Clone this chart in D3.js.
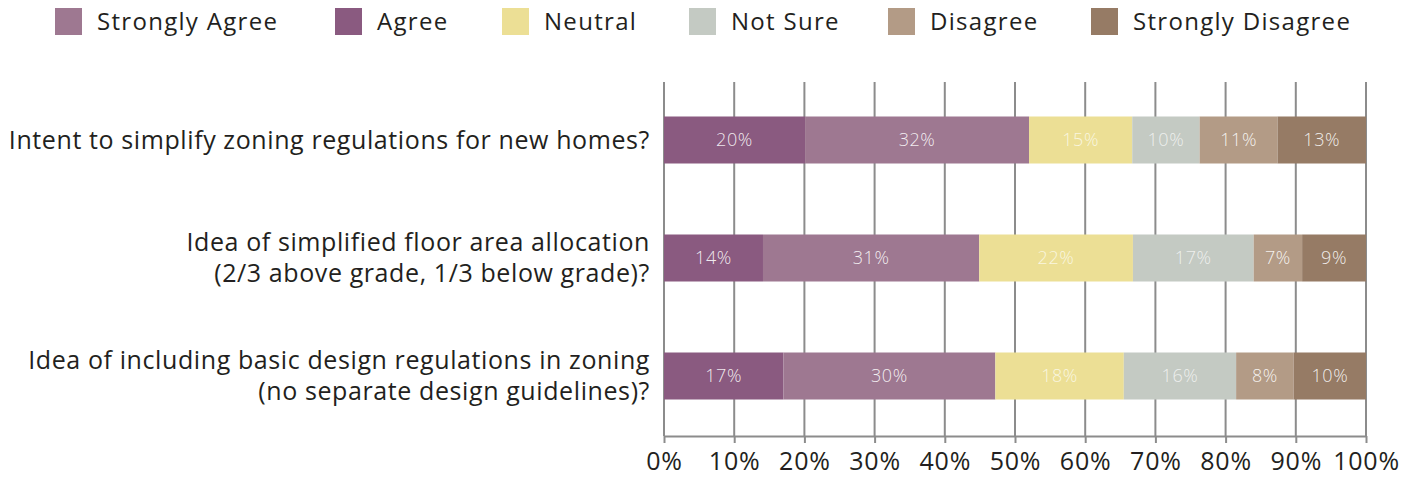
<!DOCTYPE html>
<html>
<head>
<meta charset="utf-8">
<script src="https://cdn.jsdelivr.net/npm/d3@7"></script>
<style>
  html, body { margin: 0; padding: 0; background: #ffffff; }
  svg { display: block; }
  text { font-family: "Open Sans", Lato, sans-serif; }
</style>
</head>
<body>
<svg id="chart" width="1414" height="478"></svg>
<script>
// Survey questions (each may wrap onto two lines)
const categories = [
  ["Intent to simplify zoning regulations for new homes?"],
  ["Idea of simplified floor area allocation", "(2/3 above grade, 1/3 below grade)?"],
  ["Idea of including basic design regulations in zoning", "(no separate design guidelines)?"]
];

// Response shares (%) per question, in stacking order
const agree            = [20.1, 14.1, 17.0];
const stronglyAgree    = [31.9, 30.8, 30.2];
const neutral          = [14.7, 21.9, 18.3];
const notSure          = [9.6, 17.2, 16.0];
const disagree         = [11.1, 6.9, 8.2];
const stronglyDisagree = [12.6, 9.1, 10.3];

const stackOrder  = ["Agree", "Strongly Agree", "Neutral", "Not Sure", "Disagree", "Strongly Disagree"];
const legendOrder = ["Strongly Agree", "Agree", "Neutral", "Not Sure", "Disagree", "Strongly Disagree"];
const xTicks = [0, 10, 20, 30, 40, 50, 60, 70, 80, 90, 100];

const seriesValues = {
  "Agree": agree,
  "Strongly Agree": stronglyAgree,
  "Neutral": neutral,
  "Not Sure": notSure,
  "Disagree": disagree,
  "Strongly Disagree": stronglyDisagree
};

const color = d3.scaleOrdinal()
  .domain(["Strongly Agree", "Agree", "Neutral", "Not Sure", "Disagree", "Strongly Disagree"])
  .range(["#9e7891", "#8a5a80", "#ecdf95", "#c4cac3", "#b39b86", "#967b65"]);

const svg = d3.select("#chart");

const x = d3.scaleLinear().domain([0, 100]).range([664, 1366]);
const y = d3.scaleBand().domain(d3.range(categories.length)).range([81, 435]).paddingInner(0.6).paddingOuter(0.3);

// Table rows for the stack layout
const rows = categories.map((c, i) => {
  const r = { idx: i };
  stackOrder.forEach(k => r[k] = seriesValues[k][i]);
  return r;
});
const stacked = d3.stack().keys(stackOrder)(rows);

// Vertical grid lines
svg.append("g")
  .selectAll("line")
  .data(xTicks)
  .join("line")
  .attr("x1", d => x(d)).attr("x2", d => x(d))
  .attr("y1", 82).attr("y2", 436)
  .attr("stroke", "#8c8c8c")
  .attr("stroke-width", 2);

// Bottom axis
const xAxis = d3.axisBottom(x).tickValues(xTicks).tickFormat(d => d + "%").tickSize(7).tickSizeOuter(0);
const gx = svg.append("g").attr("transform", "translate(0,436)").call(xAxis);
gx.select(".domain").attr("stroke", "#8c8c8c").attr("stroke-width", 2);
gx.selectAll(".tick line").attr("stroke", "#8c8c8c").attr("stroke-width", 2);
gx.selectAll(".tick text")
  .attr("y", 16)
  .attr("dy", "0.71em")
  .attr("fill", "#231f20")
  .style("font-size", "25px")
  .style("letter-spacing", "0.8px")
  .style("font-family", "'Open Sans', sans-serif");

// Stacked bars
const bh = 47;
const layer = svg.append("g")
  .selectAll("g")
  .data(stacked)
  .join("g")
  .attr("fill", d => color(d.key));

layer.selectAll("rect")
  .data(d => d)
  .join("rect")
  .attr("x", d => x(d[0]))
  .attr("width", d => x(d[1]) - x(d[0]))
  .attr("y", d => y(d.data.idx) + y.bandwidth() / 2 - bh / 2)
  .attr("height", bh);

// Value labels inside segments
layer.selectAll("text")
  .data(d => d.map(v => ({ v, key: d.key })))
  .join("text")
  .attr("x", d => (x(d.v[0]) + x(d.v[1])) / 2)
  .attr("y", d => y(d.v.data.idx) + y.bandwidth() / 2)
  .attr("dy", "0.36em")
  .attr("text-anchor", "middle")
  .attr("fill", "#ffffff")
  .attr("fill-opacity", d => (d.key === "Neutral" || d.key === "Not Sure") ? 0.72 : 0.88)
  .style("font-size", "18px")
  .style("font-weight", 300)
  .style("letter-spacing", "0.6px")
  .text(d => Math.round(d.v[1] - d.v[0]) + "%");

// Question labels
const labels = svg.append("g")
  .selectAll("text")
  .data(categories)
  .join("text")
  .attr("text-anchor", "end")
  .attr("fill", "#231f20")
  .style("font-size", "25px")
  .style("letter-spacing", "0.6px")
  .attr("transform", (d, i) => `translate(650,${y(i) + y.bandwidth() / 2})`);

labels.selectAll("tspan")
  .data(d => d.map((line, j) => ({ line, j, n: d.length })))
  .join("tspan")
  .attr("x", 0)
  .attr("y", d => (d.j - (d.n - 1) / 2) * 31)
  .attr("dy", "0.35em")
  .text(d => d.line);

// Legend
const legendX = [55, 335, 502, 689, 888, 1091];
const legend = svg.append("g")
  .selectAll("g")
  .data(legendOrder)
  .join("g")
  .attr("transform", (d, i) => `translate(${legendX[i]},8)`);

legend.append("rect")
  .attr("width", 27)
  .attr("height", 27)
  .attr("fill", d => color(d));

legend.append("text")
  .attr("x", 42)
  .attr("y", 14)
  .attr("dy", "0.35em")
  .attr("fill", "#231f20")
  .style("font-size", "24px")
  .style("letter-spacing", "1.3px")
  .text(d => d);
</script>
</body>
</html>
